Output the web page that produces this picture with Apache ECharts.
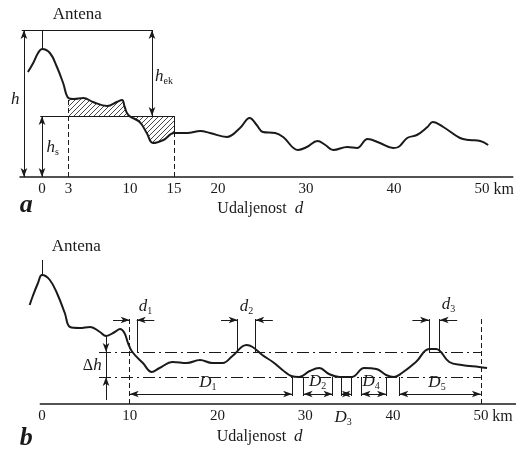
<!DOCTYPE html>
<html>
<head>
<meta charset="utf-8">
<script src="https://cdn.jsdelivr.net/npm/echarts@6/dist/echarts.min.js"></script>
<style>
  html, body { margin: 0; padding: 0; background: #fff; }
  #chart { width: 516px; height: 453px; }
</style>
</head>
<body>
<div id="chart"></div>
<script>
// terrain profiles: [distance km, height]
const profileA = [
  [-1.6, 105], [-1.0, 114], [-0.45, 124], [0, 128], [0.9, 124], [1.7, 110], [2.4, 94],
  [3, 79], [3.6, 78], [4.7, 79], [5.8, 75], [7.4, 71], [8.5, 75], [9.1, 77], [9.4, 70],
  [9.8, 62], [11.1, 55], [11.9, 44], [12.6, 34], [13.8, 37], [15, 44], [16.5, 44],
  [18, 46], [19.1, 44], [21, 40], [22.5, 49], [23.6, 59], [24.4, 52], [25.1, 45],
  [26.5, 44], [27.4, 40], [29.1, 27], [30.1, 30], [31.3, 36], [32.2, 32], [33.1, 27],
  [34.7, 30], [35.8, 29], [37, 38], [38.4, 34], [39.9, 29], [40.5, 30], [41.5, 39],
  [42.6, 42], [43.8, 50], [44.4, 55], [45.6, 50], [47.5, 39], [48.6, 37], [49.8, 36],
  [50.7, 32]
];
const profileB = [
  [-1.4, 99], [-1.0, 109], [-0.45, 121], [0, 129], [0.9, 124], [1.8, 109], [2.6, 91],
  [3.2, 77], [4.3, 76], [5.5, 77], [6.6, 72], [7.3, 68], [8.3, 72], [8.9, 75], [9.4, 71],
  [9.8, 61], [10.3, 52], [11.5, 41], [12.5, 32], [13.4, 36], [14.9, 42], [16.5, 41],
  [18, 44], [19.4, 41], [20.6, 41], [21.7, 48], [23.3, 59], [24, 57], [25.1, 49],
  [26.3, 42], [27.4, 34], [28.4, 28], [29.3, 27], [30.5, 33], [31.6, 36], [32.7, 30],
  [33.9, 27], [35.3, 27], [36.7, 36], [38.1, 35], [39.2, 29], [40.1, 27], [41, 31],
  [42.6, 42], [44.1, 55], [44.9, 55], [46.4, 42], [47.8, 39], [49.8, 37], [50.7, 36]
];
const ticksA = [0, 3, 10, 15, 20, 30, 40, 50];
const ticksB = [0, 10, 20, 30, 40, 50];

// panel a levels
const hatchRange = [3, 15];
const hsLevel = 61;
const topLevel = 147;
const antennaTopB = 144;
// panel b levels and spans
const axisSpanB = [-0.25, 54];
const upperLevel = 52;
const lowerLevel = 27;
const dSpans = [[10, 10.8], [22.3, 24.3], [44.1, 45.3]];
const DEdges = [10, 28.5, 29.8, 33.1, 34.1, 35.2, 36.4, 39.2, 40.7, 50];
const DSpans = [[10, 28.5], [29.8, 33.1], [34.1, 35.2], [36.4, 39.2], [40.7, 50]];

const ink = '#1a1a1a';
const serif = '"Liberation Serif", "DejaVu Serif", serif';

function hatchPattern() {
  const c = document.createElement('canvas');
  c.width = c.height = 5;
  const g = c.getContext('2d');
  g.strokeStyle = '#333';
  g.lineWidth = 0.9;
  g.beginPath();
  g.moveTo(-1, 6); g.lineTo(6, -1);
  g.moveTo(-1, 1); g.lineTo(1, -1);
  g.moveTo(4, 6); g.lineTo(6, 4);
  g.stroke();
  return c;
}

function seg(a, b, s0, s1, type, width) {
  const ls = { color: ink, width: width || 1, type: type || 'solid' };
  return [
    { coord: a, symbol: s0 || 'none', symbolSize: [5, 9], lineStyle: ls },
    { coord: b, symbol: s1 || 'none', symbolSize: [5, 9], lineStyle: ls }
  ];
}
const dash = [5, 3];
const dashDot = [12, 4, 2, 4];

const peakA = profileA.find(p => p[0] === 0)[1];
const at3 = profileA.find(p => p[0] === hatchRange[0])[1];
const at15 = profileA.find(p => p[0] === hatchRange[1])[1];
const peakB = profileB.find(p => p[0] === 0)[1];
const dhAt = profileB.find(p => p[0] === 7.3);

const marksA = [
  seg([-2.3, topLevel], [12.5, topLevel]),
  seg([0, peakA], [0, topLevel]),
  seg([-2.05, 0], [-2.05, topLevel], 'arrow', 'arrow'),
  seg([12.5, hsLevel], [12.5, topLevel], 'arrow', 'arrow'),
  seg([-0.2, hsLevel], [hatchRange[1], hsLevel]),
  seg([0, 0], [0, hsLevel], 'arrow', 'arrow'),
  seg([hatchRange[0], 0], [hatchRange[0], at3], null, null, dash),
  seg([hatchRange[1], 0], [hatchRange[1], hsLevel], null, null, dash),
  seg([hatchRange[1], at15], [hatchRange[1], hsLevel])
];

const marksB = [
  seg([axisSpanB[0], 0], [axisSpanB[1], 0], null, null, null, 1.5),
  seg([0, peakB], [0, antennaTopB]),
  seg([6.5, upperLevel], [50, upperLevel], null, null, dashDot),
  seg([6.5, lowerLevel], [50, lowerLevel], null, null, dashDot),
  seg([10, 0], [10, 87], null, null, dash),
  seg([50, 0], [50, 86], null, null, dash),
  seg([dhAt[0], dhAt[1]], [dhAt[0], upperLevel], null, 'arrow'),
  seg([dhAt[0], 4], [dhAt[0], lowerLevel], null, 'arrow'),
  seg([dhAt[0], upperLevel], [dhAt[0], lowerLevel])
];
dSpans.forEach(([l, r], i) => {
  if (i > 0) marksB.push(seg([l, 85], [l, upperLevel]));
  marksB.push(seg([r, 85], [r, upperLevel]));
  marksB.push(seg([l - 1.9, 84], [l, 84], null, 'arrow'));
  marksB.push(seg([r + 2.0, 84], [r, 84], null, 'arrow'));
});
DEdges.slice(1, -1).forEach(x => marksB.push(seg([x, lowerLevel], [x, 8])));
DSpans.forEach(([l, r]) => marksB.push(seg([l, 10], [r, 10], 'arrow', 'arrow')));

function xAxisFor(grid, min, max, ticks, showLine) {
  return {
    type: 'value', gridIndex: grid, min, max,
    axisLine: { show: showLine, onZero: false, lineStyle: { color: ink, width: 1.5 } },
    axisTick: { show: false },
    splitLine: { show: false },
    axisLabel: {
      customValues: ticks, margin: 5, color: ink,
      fontFamily: serif, fontSize: 15
    }
  };
}
function yAxisFor(grid) {
  return { type: 'value', gridIndex: grid, min: 0, max: 150, show: false };
}

const markLineBase = {
  silent: true, animation: false, symbol: 'none',
  label: { show: false }, emphasis: { disabled: true }
};

const chart = echarts.init(document.getElementById('chart'), null, { renderer: 'canvas' });
chart.setOption({
  animation: false,
  backgroundColor: '#fff',
  grid: [
    { left: 20, width: 492.8, top: 27, height: 150 },
    { left: 20, width: 497.2, top: 254, height: 150 }
  ],
  xAxis: [xAxisFor(0, -2.5, 53.5, ticksA, true), xAxisFor(1, -2.5, 54, ticksB, false)],
  yAxis: [yAxisFor(0), yAxisFor(1)],
  series: [
    {
      type: 'line', xAxisIndex: 0, yAxisIndex: 0, z: 1,
      data: profileA.filter(p => p[0] >= hatchRange[0] && p[0] <= hatchRange[1]),
      smooth: 0.4, showSymbol: false, silent: true,
      lineStyle: { width: 0 },
      areaStyle: { origin: hsLevel, opacity: 1, color: { image: hatchPattern(), repeat: 'repeat' } }
    },
    {
      type: 'line', xAxisIndex: 0, yAxisIndex: 0, z: 3,
      data: profileA, smooth: 0.4, showSymbol: false, silent: true,
      lineStyle: { color: ink, width: 2 },
      markLine: Object.assign({ data: marksA }, markLineBase)
    },
    {
      type: 'line', xAxisIndex: 1, yAxisIndex: 1, z: 3,
      data: profileB, smooth: 0.4, showSymbol: false, silent: true,
      lineStyle: { color: ink, width: 2 },
      markLine: Object.assign({ data: marksB }, markLineBase)
    }
  ]
});

const rich = {
  n: { fontFamily: serif, fontSize: 16, fill: ink },
  a: { fontFamily: serif, fontSize: 17, fill: ink },
  i: { fontFamily: serif, fontSize: 17, fontStyle: 'italic', fill: ink },
  s: { fontFamily: serif, fontSize: 10, fill: ink, padding: [9, 0, 0, 0] },
  big: { fontFamily: serif, fontSize: 26, fontStyle: 'italic', fontWeight: 'bold', fill: ink }
};
const notes = [
  [0, [4.0, 162], '{a|Antena}', 'center'],
  [0, [-3.05, 77], '{i|h}', 'center'],
  [0, [12.85, 100], '{i|h}{s|ek}', 'left'],
  [0, [0.5, 29], '{i|h}{s|s}', 'left'],
  [0, [-1.8, -28], '{big|a}', 'center'],
  [0, [24.8, -32], '{n|Udaljenost  }{i|d}', 'center'],
  [0, [51.3, -13], '{n|km}', 'left'],
  [1, [3.9, 157], '{a|Antena}', 'center'],
  [1, [6.8, 38], '{n|Δ}{i|h}', 'right'],
  [1, [11.8, 97], '{i|d}{s|1}', 'center'],
  [1, [23.3, 97], '{i|d}{s|2}', 'center'],
  [1, [46.3, 99], '{i|d}{s|3}', 'center'],
  [1, [18.9, 21], '{i|D}{s|1}', 'center'],
  [1, [31.4, 22], '{i|D}{s|2}', 'center'],
  [1, [34.3, -14], '{i|D}{s|3}', 'center'],
  [1, [37.5, 22], '{i|D}{s|4}', 'center'],
  [1, [45, 21], '{i|D}{s|5}', 'center'],
  [1, [-1.8, -34], '{big|b}', 'center'],
  [1, [24.8, -33], '{n|Udaljenost  }{i|d}', 'center'],
  [1, [51.3, -13], '{n|km}', 'left']
];
chart.setOption({
  graphic: notes.map(([g, pt, text, align]) => {
    const [x, y] = chart.convertToPixel({ gridIndex: g }, pt);
    return {
      type: 'text', x, y, silent: true,
      style: { text, rich, align, verticalAlign: 'middle' }
    };
  })
});
</script>
</body>
</html>
